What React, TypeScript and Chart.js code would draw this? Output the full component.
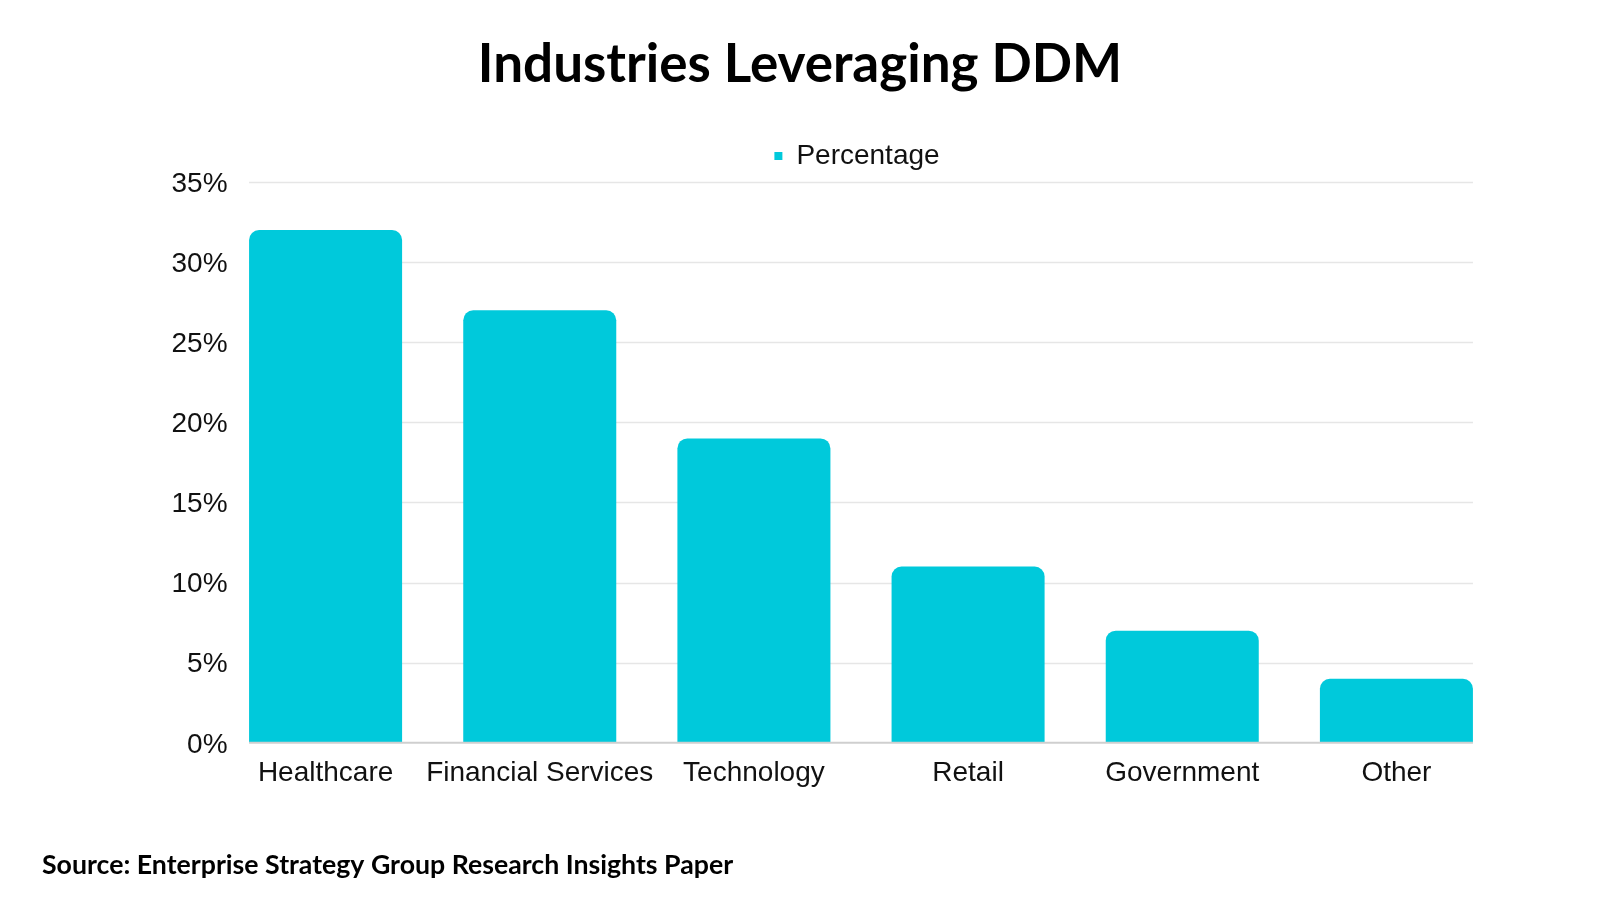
import React, { useEffect, useRef } from 'react';
import { Chart, registerables } from 'chart.js';

Chart.register(...registerables);

const categories = ['Healthcare', 'Financial Services', 'Technology', 'Retail', 'Government', 'Other'];
const percentages = [32, 27, 19, 11, 7, 4];
const seriesLabel = 'Percentage';
const yMin = 0;
const yMax = 35;
const yStep = 5;
const titleText = 'Industries Leveraging DDM';
const sourceText = 'Source: Enterprise Strategy Group Research Insights Paper';

const BAR_COLOR = '#00C9DB';

const insetGrid = {
  id: 'insetGrid',
  beforeDatasetsDraw(chart: any) {
    const meta = chart.getDatasetMeta(0);
    if (!meta.data.length) return;
    const first = meta.data[0].getProps(['x', 'width'], true);
    const last = meta.data[meta.data.length - 1].getProps(['x', 'width'], true);
    const left = first.x - first.width / 2;
    const right = last.x + last.width / 2;
    const y = chart.scales.y;
    const ctx = chart.ctx;
    ctx.save();
    ctx.strokeStyle = '#e6e6e6';
    ctx.lineWidth = 1.5;
    y.ticks.forEach((t: any) => {
      if (t.value === yMin) return;
      const py = Math.round(y.getPixelForValue(t.value)) + 0.5;
      ctx.beginPath();
      ctx.moveTo(left, py);
      ctx.lineTo(right, py);
      ctx.stroke();
    });
    ctx.restore();
  },
  afterDatasetsDraw(chart: any) {
    const meta = chart.getDatasetMeta(0);
    if (!meta.data.length) return;
    const first = meta.data[0].getProps(['x', 'width'], true);
    const last = meta.data[meta.data.length - 1].getProps(['x', 'width'], true);
    const left = first.x - first.width / 2;
    const right = last.x + last.width / 2;
    const y = chart.scales.y;
    const ctx = chart.ctx;
    const py = y.getPixelForValue(yMin);
    ctx.save();
    ctx.strokeStyle = '#cfcfcf';
    ctx.lineWidth = 2;
    ctx.beginPath();
    ctx.moveTo(left, py);
    ctx.lineTo(right, py);
    ctx.stroke();
    ctx.restore();
  },
};

const legendShift = {
  id: 'legendShift',
  beforeDraw(chart: any) {
    const lg = chart.legend;
    const ca = chart.chartArea;
    if (!lg || !ca) return;
    const dx = (ca.left + ca.right) / 2 - (lg.left + lg.right) / 2 - 4;
    lg.left += dx;
    lg.right += dx;
    lg.top -= 2;
    lg.bottom -= 2;
  },
};

export default function App() {
  const ref = useRef<HTMLCanvasElement | null>(null);

  useEffect(() => {
    if (!ref.current) return;
    const chart = new Chart(ref.current, {
      type: 'bar',
      data: {
        labels: categories,
        datasets: [
          {
            label: seriesLabel,
            data: percentages,
            backgroundColor: BAR_COLOR,
            borderWidth: 0,
            borderRadius: 10,
            borderSkipped: 'start',
            categoryPercentage: 1,
            barPercentage: 0.7145,
          },
        ],
      },
      options: {
        responsive: false,
        animation: false,
        events: [],
        layout: { padding: { left: 42, right: 42, top: 0, bottom: 0 } },
        plugins: {
          title: {
            display: true,
            text: titleText,
            color: '#000',
            font: { family: 'Lato', size: 53, weight: 'bold' },
            padding: { top: 33, bottom: 37.4 },
          },
          subtitle: {
            display: true,
            text: sourceText,
            position: 'bottom',
            align: 'start',
            color: '#000',
            font: { family: 'Lato', size: 26.7, weight: 'bold' },
            padding: { top: 44.5, bottom: 19 },
          },
          legend: {
            display: true,
            position: 'top',
            labels: {
              color: '#111',
              font: { family: 'Liberation Sans', size: 28 },
              boxWidth: 8,
              boxHeight: 8,
              padding: 10,
            },
          },
          tooltip: { enabled: false },
        },
        scales: {
          x: {
            type: 'category',
            offset: true,
            grid: { display: false, drawTicks: false },
            border: { display: false },
            ticks: {
              color: '#111',
              font: { family: 'Liberation Sans', size: 28 },
              padding: 14,
              maxRotation: 0,
              autoSkip: false,
            },
          },
          y: {
            type: 'linear',
            position: 'left',
            min: yMin,
            max: yMax,
            grid: { display: false, drawTicks: false },
            border: { display: false },
            ticks: {
              stepSize: yStep,
              color: '#111',
              font: { family: 'Liberation Sans', size: 28 },
              mirror: true,
              crossAlign: 'far',
              padding: -47,
              labelOffset: 2,
              callback: (v: any) => `${v}%`,
            },
            afterFit: (s: any) => {
              s.width = 176.5;
            },
          },
          yRightSpacer: {
            type: 'linear',
            position: 'right',
            display: true,
            grid: { display: false, drawTicks: false },
            border: { display: false },
            ticks: { display: false },
            afterFit: (s: any) => {
              s.width = 54.5;
            },
          },
        },
      } as any,
      plugins: [insetGrid, legendShift],
    });
    return () => chart.destroy();
  }, []);

  return (
    <div style={{ position: 'absolute', left: 0, top: 0, width: 1600, height: 900, background: '#fff' }}>
      <canvas ref={ref} width={1600} height={900} style={{ display: 'block', width: 1600, height: 900 }} />
    </div>
  );
}
